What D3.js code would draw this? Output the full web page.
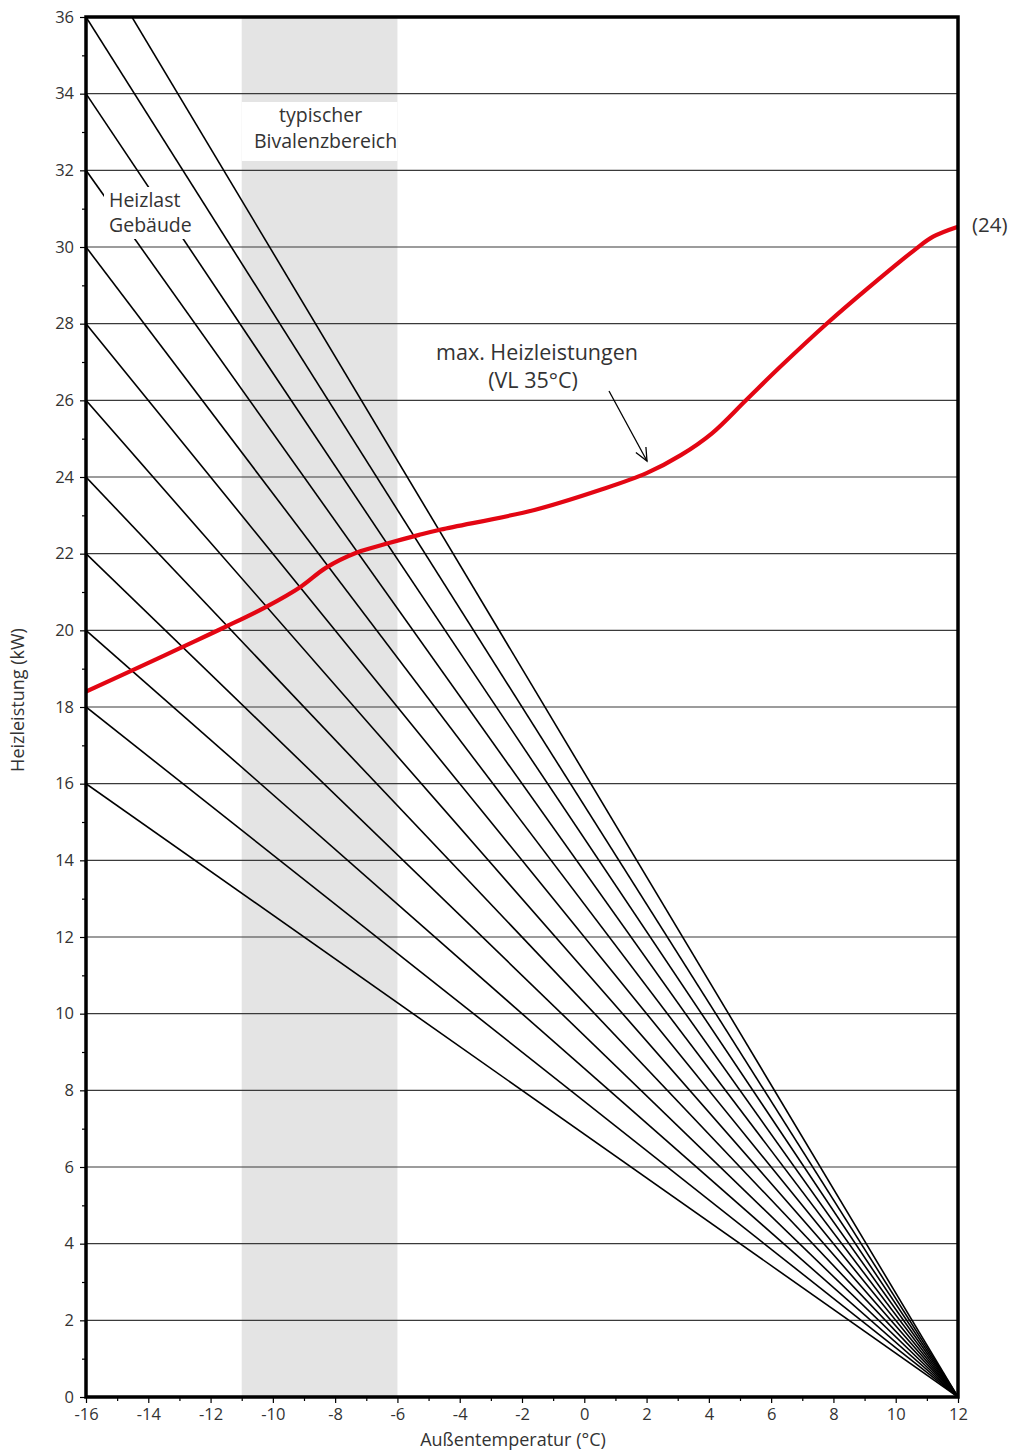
<!DOCTYPE html>
<html>
<head>
<meta charset="utf-8">
<script src="https://cdn.jsdelivr.net/npm/d3@7"></script>
<style>
  body { margin: 0; background: #fff; }
  svg { display: block; font-family: "Open Sans", "Lato", sans-serif; }
</style>
</head>
<body>
<svg id="chart" width="1012" height="1450"></svg>
<script>
// ---- data ----
const xDomain = [-16, 12];
const yDomain = [0, 36];
const xTickValues = [-16, -14, -12, -10, -8, -6, -4, -2, 0, 2, 4, 6, 8, 10, 12];
const yTickValues = [0, 2, 4, 6, 8, 10, 12, 14, 16, 18, 20, 22, 24, 26, 28, 30, 32, 34, 36];
// building heat load lines: value at -16 °C, all reach 0 at 12 °C
const heizlastStart = [16, 18, 20, 22, 24, 26, 28, 30, 32, 34, 36, 38];
const heizlastZeroTemp = 12;
// max heating output curve (VL 35°C)
const curveTemp = [-16, -14.5, -13, -11.5, -10.2, -9.1, -8.3, -7.3, -6.3, -5.3, -4.6, -1.6, 0.5, 2, 3.1, 4.1, 5.2, 6.3, 7.8, 9.1, 10.6, 11.2, 12];
const curveKW   = [18.4, 18.96, 19.53, 20.1, 20.62, 21.14, 21.63, 22.03, 22.27, 22.49, 22.63, 23.14, 23.66, 24.1, 24.57, 25.14, 26.01, 26.88, 28.01, 28.92, 29.92, 30.27, 30.53];
const bivalenzRange = [-11, -6];

// ---- layout ----
const svg = d3.select("#chart");
const L = 86, R = 958, T = 17, B = 1397;
const x = d3.scaleLinear().domain(xDomain).range([L, R]);
const y = d3.scaleLinear().domain(yDomain).range([B, T]);
const textCol = "#333";

svg.append("defs").append("clipPath").attr("id", "plotclip")
  .append("rect").attr("x", L).attr("y", T).attr("width", R - L).attr("height", B - T);

// bivalence band
svg.append("rect")
  .attr("x", x(bivalenzRange[0])).attr("y", T)
  .attr("width", x(bivalenzRange[1]) - x(bivalenzRange[0])).attr("height", B - T)
  .attr("fill", "#e4e4e4");
// white box behind band label
svg.append("rect")
  .attr("x", x(bivalenzRange[0])).attr("y", 102)
  .attr("width", x(bivalenzRange[1]) - x(bivalenzRange[0])).attr("height", 59)
  .attr("fill", "#fff");

// grid lines
svg.append("g").selectAll("line").data(yTickValues.filter(v => v > 0 && v < 36)).join("line")
  .attr("x1", L).attr("x2", R).attr("y1", d => y(d)).attr("y2", d => y(d))
  .attr("stroke", "#3a3a3a").attr("stroke-width", 1.1);

// band label
const bandMid = (x(bivalenzRange[0]) + x(bivalenzRange[1])) / 2;
svg.append("text").attr("x", bandMid + 1).attr("y", 122).attr("text-anchor", "middle")
  .attr("font-size", 19.5).attr("fill", textCol).text("typischer");
svg.append("text").attr("x", bandMid + 6).attr("y", 148).attr("text-anchor", "middle")
  .attr("font-size", 19.5).attr("fill", textCol).text("Bivalenzbereich");

// heat load lines
const plot = svg.append("g").attr("clip-path", "url(#plotclip)");
const lowLines = heizlastStart.filter(v => v <= 34);
const highLines = heizlastStart.filter(v => v > 34);
function drawLines(vals) {
  plot.append("g").selectAll("line").data(vals).join("line")
    .attr("x1", x(xDomain[0])).attr("y1", d => y(d))
    .attr("x2", x(heizlastZeroTemp)).attr("y2", y(0))
    .attr("stroke", "#000").attr("stroke-width", 1.6);
}
drawLines(lowLines);
// white box behind "Heizlast Gebäude"
plot.append("rect").attr("x", 104).attr("y", 187).attr("width", 96).attr("height", 52).attr("fill", "#fff");
drawLines(highLines);

svg.append("text").attr("x", 109).attr("y", 207).attr("font-size", 19.5).attr("fill", textCol).text("Heizlast");
svg.append("text").attr("x", 109).attr("y", 232).attr("font-size", 19.5).attr("fill", textCol).text("Gebäude");

// red curve
const line = d3.line().x(d => x(d[0])).y(d => y(d[1])).curve(d3.curveCatmullRom.alpha(0.5));
plot.append("path").datum(curveTemp.map((t, i) => [t, curveKW[i]]))
  .attr("d", line).attr("fill", "none").attr("stroke", "#e30613").attr("stroke-width", 4.2)
  .attr("stroke-linejoin", "round");

// curve label + arrow
svg.append("text").attr("x", 537).attr("y", 360).attr("text-anchor", "middle")
  .attr("font-size", 21.5).attr("fill", textCol).text("max. Heizleistungen");
svg.append("text").attr("x", 533).attr("y", 388).attr("text-anchor", "middle")
  .attr("font-size", 21.5).attr("fill", textCol).text("(VL 35°C)");
const ax1 = 609, ay1 = 391, ax2 = 647, ay2 = 461;
svg.append("line").attr("x1", ax1).attr("y1", ay1).attr("x2", ax2).attr("y2", ay2)
  .attr("stroke", "#000").attr("stroke-width", 1.3);
const ang = Math.atan2(ay2 - ay1, ax2 - ax1), hl = 14, ha = 0.42;
svg.append("path")
  .attr("d", `M${ax2 - hl * Math.cos(ang - ha)},${ay2 - hl * Math.sin(ang - ha)} L${ax2},${ay2} L${ax2 - hl * Math.cos(ang + ha)},${ay2 - hl * Math.sin(ang + ha)}`)
  .attr("fill", "none").attr("stroke", "#000").attr("stroke-width", 1.3);

svg.append("text").attr("x", 972).attr("y", 232).attr("font-size", 20.5).attr("fill", textCol).text("(24)");

// frame
svg.append("rect").attr("x", L).attr("y", T).attr("width", R - L).attr("height", B - T)
  .attr("fill", "none").attr("stroke", "#000").attr("stroke-width", 3.5);

// axes
const fmt = d => String(d);
const yAxis = d3.axisLeft(y).tickValues(yTickValues).tickSize(5).tickPadding(6).tickFormat(fmt);
const gy = svg.append("g").attr("transform", `translate(${L - 1},0)`).call(yAxis);
gy.select(".domain").remove();
gy.selectAll(".tick text").attr("font-size", 16.5).attr("fill", textCol).attr("font-family", "'Open Sans', Lato, sans-serif");
gy.selectAll(".tick line").attr("stroke", "#000").attr("stroke-width", 1.2);
const yMinor = d3.axisLeft(y).tickValues(d3.range(1, 36, 2)).tickSize(3).tickFormat("");
const gym = svg.append("g").attr("transform", `translate(${L - 1},0)`).call(yMinor);
gym.select(".domain").remove();
gym.selectAll(".tick line").attr("stroke", "#000").attr("stroke-width", 1.2);

const xAxis = d3.axisBottom(x).tickValues(xTickValues).tickSize(5).tickPadding(5).tickFormat(fmt);
const gx = svg.append("g").attr("transform", `translate(0,${B + 1})`).call(xAxis);
gx.select(".domain").remove();
gx.selectAll(".tick text").attr("font-size", 16.5).attr("fill", textCol).attr("font-family", "'Open Sans', Lato, sans-serif");
gx.selectAll(".tick line").attr("stroke", "#000").attr("stroke-width", 1.2);
const xMinor = d3.axisBottom(x).tickValues(d3.range(-15, 12, 2)).tickSize(3).tickFormat("");
const gxm = svg.append("g").attr("transform", `translate(0,${B + 1})`).call(xMinor);
gxm.select(".domain").remove();
gxm.selectAll(".tick line").attr("stroke", "#000").attr("stroke-width", 1.2);

// axis titles
svg.append("text").attr("x", 513).attr("y", 1446).attr("text-anchor", "middle")
  .attr("font-size", 18).attr("fill", textCol).text("Außentemperatur (°C)");
svg.append("text").attr("transform", "translate(24,700) rotate(-90)").attr("text-anchor", "middle")
  .attr("font-size", 18).attr("fill", textCol).text("Heizleistung (kW)");
</script>
</body>
</html>
